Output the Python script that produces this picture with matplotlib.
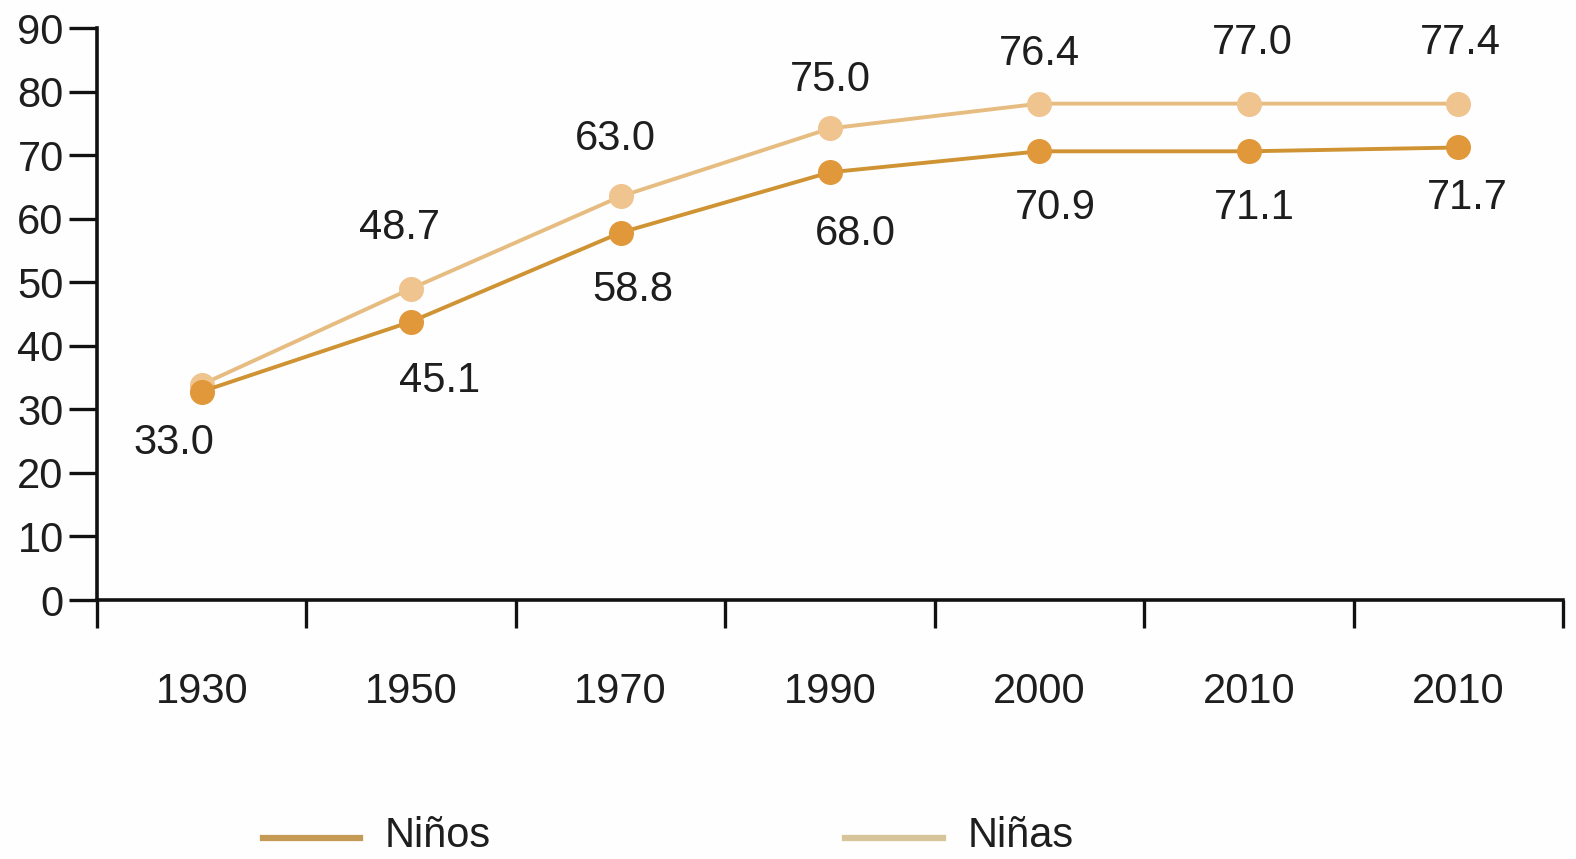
import matplotlib
matplotlib.use("Agg")
import matplotlib.pyplot as plt
from matplotlib.lines import Line2D

plt.rcParams['font.family'] = ['Liberation Sans', 'DejaVu Sans']

years = ["1930", "1950", "1970", "1990", "2000", "2010", "2010"]
ninos = [32.8, 43.8, 57.8, 67.3, 70.6, 70.6, 71.2]
ninas = [33.9, 49.0, 63.5, 74.2, 78.1, 78.1, 78.1]
ninos_labels = ["33.0", "45.1", "58.8", "68.0", "70.9", "71.1", "71.7"]
ninas_labels = ["", "48.7", "63.0", "75.0", "76.4", "77.0", "77.4"]
y_ticks = [0, 10, 20, 30, 40, 50, 60, 70, 80, 90]

c_ninos_line = "#CF9333"
c_ninos_mark = "#E0983A"
c_ninas_line = "#E6BC80"
c_ninas_mark = "#EFC48E"
c_text = "#1E1E1E"

fig = plt.figure(figsize=(15.76, 8.59), dpi=100)
fig.patch.set_facecolor("#FEFEFE")
ax = fig.add_axes([97/1576, 1-600/859, (1563-97)/1576, (600-28)/859])
ax.set_facecolor("#FEFEFE")

x = list(range(len(years)))
ax.plot(x, ninas, color=c_ninas_line, lw=2.8, marker="o", ms=17,
        mfc=c_ninas_mark, mec=c_ninas_mark, zorder=3)
ax.plot(x, ninos, color=c_ninos_line, lw=2.8, marker="o", ms=17,
        mfc=c_ninos_mark, mec=c_ninos_mark, zorder=4)

# data label offsets (pixels)
ninos_off = [(-28, -51), (28, -59), (12, -57), (25, -62), (16, -57), (5, -57), (9, -51)]
ninas_off = [(0, 0), (-12, 61), (-5, 57), (0, 48), (0, 50), (3, 61), (2, 61)]
for i in x:
    dx, dy = ninos_off[i]
    ax.annotate(ninos_labels[i], (i, ninos[i]), xytext=(dx * 0.72, dy * 0.72),
                textcoords="offset points", ha="center", va="center",
                fontsize=30, color=c_text, zorder=5)
    if ninas_labels[i]:
        dx, dy = ninas_off[i]
        ax.annotate(ninas_labels[i], (i, ninas[i]), xytext=(dx * 0.72, dy * 0.72),
                    textcoords="offset points", ha="center", va="center",
                    fontsize=30, color=c_text, zorder=5)

ax.set_xlim(-0.5, len(years) - 0.5)
ax.set_ylim(0, 90)
ax.set_yticks(y_ticks)
ax.set_yticklabels([str(v) for v in y_ticks], fontsize=30, color=c_text)
ax.tick_params(axis="y", length=20, width=2.4, pad=4, color="#111111")

ax.set_xticks([i - 0.5 for i in range(len(years) + 1)])
ax.set_xticklabels([""] * (len(years) + 1))
ax.tick_params(axis="x", which="major", length=20, width=2.4, direction="out", color="#111111")
ax.set_xticks(x, minor=True)
ax.set_xticklabels(years, minor=True, fontsize=30, color=c_text)
ax.tick_params(axis="x", which="minor", length=0, pad=52)

for s in ["top", "right"]:
    ax.spines[s].set_visible(False)
for s in ["left", "bottom"]:
    ax.spines[s].set_linewidth(2.6)
    ax.spines[s].set_color("#111111")

# legend
fig.add_artist(Line2D([263/1576, 360/1576], [1-838/859, 1-838/859],
                      color="#C49A55", lw=4.5, transform=fig.transFigure))
fig.text(385/1576, 1-836/859, "Niños", fontsize=30, color=c_text,
         ha="left", va="center")
fig.add_artist(Line2D([845/1576, 943/1576], [1-838/859, 1-838/859],
                      color="#D8C49A", lw=4.5, transform=fig.transFigure))
fig.text(968/1576, 1-836/859, "Niñas", fontsize=30, color=c_text,
         ha="left", va="center")

fig.savefig("out.png", dpi=100, facecolor=fig.get_facecolor())
